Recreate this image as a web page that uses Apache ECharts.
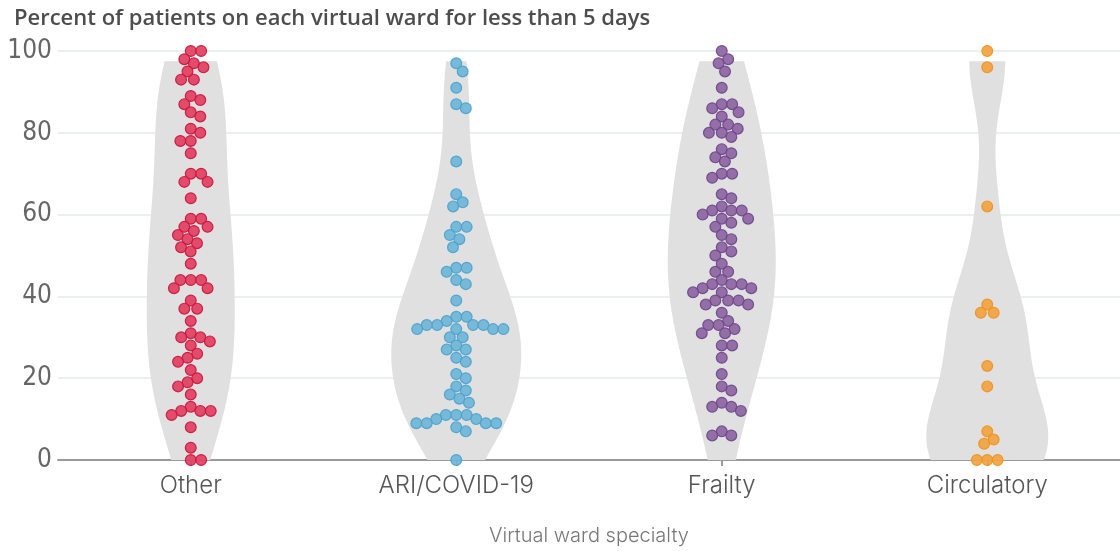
<!DOCTYPE html>
<html>
<head>
<meta charset="utf-8">
<title>Virtual ward stays</title>
<script src="https://cdn.jsdelivr.net/npm/echarts@6/dist/echarts.min.js"></script>
<style>
  html, body { margin: 0; padding: 0; background: #fff; }
  #main { width: 1120px; height: 551px; }
</style>
</head>
<body>
<div id="main"></div>
<script>
// data
var categories = ['Other', 'ARI/COVID-19', 'Frailty', 'Circulatory'];

var otherValues = [100, 100, 98, 97, 96, 95, 93, 93, 89, 88, 87, 85, 84, 81, 80, 78, 78, 75, 70, 70,
  68, 68, 64, 59, 59, 57, 57, 56, 55, 54, 53, 52, 51, 48, 44, 44, 44, 42, 42, 39,
  37, 37, 34, 31, 30, 30, 29, 28, 26, 25, 24, 22, 20, 19, 18, 16, 13, 12, 12, 12,
  11, 8, 3, 0, 0];
var ariValues = [97, 95, 91, 87, 86, 73, 65, 63, 62, 57, 57, 55, 54, 52, 47, 47, 46, 44, 43, 39,
  35, 35, 34, 33, 33, 33, 33, 32, 32, 32, 32, 30, 30, 28, 27, 27, 25, 24, 21, 20,
  18, 17, 16, 15, 14, 11, 11, 11, 10, 10, 9, 9, 9, 9, 8, 7, 0];
var frailtyValues = [100, 98, 97, 95, 91, 87, 87, 86, 85, 84, 82, 82, 81, 80, 80, 79, 76, 75, 74, 73,
  70, 70, 69, 65, 64, 62, 61, 61, 61, 60, 59, 59, 58, 57, 55, 54, 52, 51, 50, 48,
  46, 46, 44, 43, 43, 43, 42, 42, 41, 41, 39, 39, 39, 38, 38, 36, 34, 33, 33, 32,
  31, 31, 28, 28, 25, 21, 18, 17, 14, 13, 13, 12, 7, 6, 6];
var circulatoryValues = [100, 96, 62, 38, 36, 36, 23, 18, 7, 5, 4, 0, 0, 0];

var yTicks = [0, 20, 40, 60, 80, 100];

var allValues = [otherValues, ariValues, frailtyValues, circulatoryValues];
var dotFill = ['#e23e60', '#6db5d8', '#8d64a2', '#f2a23f'];
var dotStroke = ['#c9173d', '#4da2cc', '#6e468a', '#ef9224'];
var violinWidth = [88, 130, 108, 122];   // px, widest point of each violin
var bandwidth = [14, 12, 17, 12];        // kde bandwidth per violin
var violinTop = 97.5;
var dotR = 5.2;

// gaussian kde, scaled 0..1 per category
function kde(vals, bw) {
  var out = [];
  var max = 0;
  for (var v = 0; v <= violinTop + 0.001; v += 0.5) {
    var d = 0;
    for (var i = 0; i < vals.length; i++) {
      var u = (v - vals[i]) / bw;
      d += Math.exp(-0.5 * u * u);
    }
    out.push([v, d]);
    if (d > max) max = d;
  }
  out.forEach(function (p) { p[1] = p[1] / max; });
  return out;
}
var densities = allValues.map(function (vals, c) { return kde(vals, bandwidth[c]); });

// simple beeswarm: place each dot as close to the centre as it fits
function swarm(vals, ppu, r) {
  var order = vals.map(function (v, i) { return i; });
  order.sort(function (a, b) { return vals[b] - vals[a]; });
  var placed = [];
  var offs = [];
  order.forEach(function (i) {
    var y = vals[i] * ppu;
    var cands = [0];
    placed.forEach(function (p) {
      var dy = y - p.y;
      if (Math.abs(dy) < 2 * r) {
        var dx = Math.sqrt(4 * r * r - dy * dy);
        cands.push(p.x + dx, p.x - dx);
      }
    });
    cands.sort(function (a, b) { return Math.abs(a) - Math.abs(b); });
    for (var k = 0; k < cands.length; k++) {
      var x = cands[k], ok = true;
      for (var j = 0; j < placed.length; j++) {
        var ddx = x - placed[j].x, ddy = y - placed[j].y;
        if (ddx * ddx + ddy * ddy < 4 * r * r - 0.01) { ok = false; break; }
      }
      if (ok) { offs[i] = x; placed.push({ x: x, y: y }); break; }
    }
  });
  return offs;
}
var swarmCache = {};

function renderViolin(params, api) {
  var c = api.value(0);
  var dens = densities[c];
  var left = [], right = [];
  dens.forEach(function (p) {
    var pt = api.coord([c, p[0]]);
    var hw = p[1] * violinWidth[c] / 2;
    left.push([pt[0] - hw, pt[1]]);
    right.unshift([pt[0] + hw, pt[1]]);
  });
  return {
    type: 'polygon',
    shape: { points: left.concat(right) },
    style: { fill: '#e0e0e0' },
    silent: true
  };
}

function makeDotRenderer(c) {
  return function (params, api) {
    var ppu = api.size([0, 1])[1];
    var key = c + '_' + ppu.toFixed(3);
    if (!swarmCache[key]) swarmCache[key] = swarm(allValues[c], ppu, dotR);
    var off = swarmCache[key][params.dataIndex];
    var pt = api.coord([c, api.value(1)]);
    return {
      type: 'circle',
      shape: { cx: pt[0] + off, cy: pt[1], r: 5.4 },
      style: { fill: dotFill[c], stroke: dotStroke[c], lineWidth: 1.2, opacity: 0.92 }
    };
  };
}

var series = [{
  type: 'custom',
  name: 'violin',
  renderItem: renderViolin,
  data: categories.map(function (n, i) { return [i, 0]; }),
  encode: { x: 0, y: 1 },
  z: 1,
  silent: true
}];
allValues.forEach(function (vals, c) {
  series.push({
    type: 'custom',
    name: categories[c],
    renderItem: makeDotRenderer(c),
    data: vals.map(function (v) { return [c, v]; }),
    encode: { x: 0, y: 1 },
    z: 3
  });
});

var narrow = "'Liberation Sans Narrow', 'DejaVu Sans Condensed', sans-serif";

var myChart = echarts.init(document.getElementById('main'));
var option = {
  backgroundColor: '#fff',
  animation: false,
  title: {
    text: 'Percent of patients on each virtual ward for less than 5 days',
    left: 9,
    top: 3,
    textStyle: { fontFamily: "'Open Sans', sans-serif", fontSize: 22, fontWeight: 600, color: '#4d4d4d' }
  },
  grid: { left: 58, right: 0, top: 51, bottom: 86, containLabel: false },
  xAxis: {
    type: 'category',
    data: categories,
    name: 'Virtual ward specialty',
    nameLocation: 'middle',
    nameGap: 66,
    nameTextStyle: { fontFamily: 'Inter', fontWeight: 300, fontSize: 20, color: '#777' },
    axisLine: { lineStyle: { color: '#9a9a9a', width: 2 } },
    axisTick: { show: true, alignWithLabel: true, length: 6, lineStyle: { color: '#9a9a9a', width: 2 } },
    axisLabel: { fontFamily: 'Inter', fontWeight: 300, fontSize: 24, color: '#555', margin: 14 },
    splitLine: { show: false }
  },
  yAxis: {
    type: 'value',
    min: yTicks[0],
    max: yTicks[yTicks.length - 1],
    interval: 20,
    axisLine: { show: false },
    axisTick: { show: false },
    axisLabel: { fontFamily: narrow, fontSize: 26, color: '#666', margin: 6 },
    splitLine: { lineStyle: { color: '#e6ebe6', width: 1.5 } }
  },
  series: series
};
myChart.setOption(option);
</script>
</body>
</html>
